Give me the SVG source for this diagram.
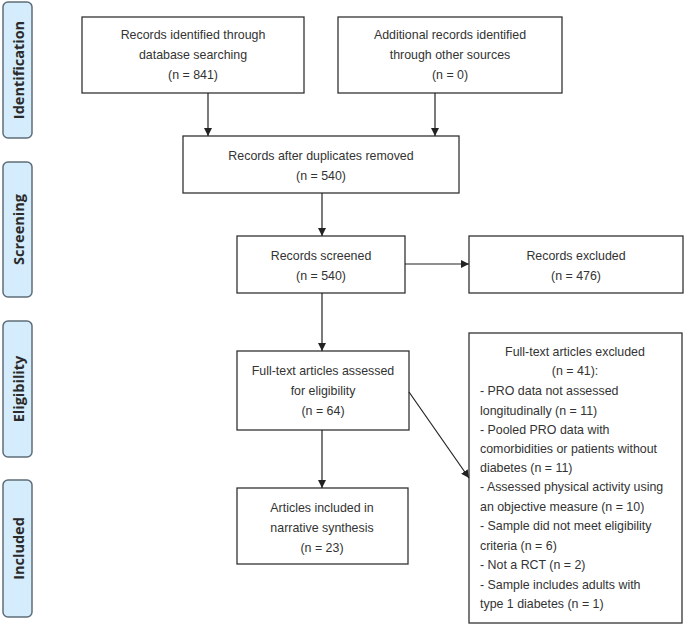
<svg xmlns="http://www.w3.org/2000/svg" width="685" height="626" viewBox="0 0 685 626">
<defs>
<style>
.box{fill:#fff;stroke:#333;stroke-width:1.3}
.side{fill:#d4ecfb;stroke:#5f6d78;stroke-width:1.5}
.t{font-family:"Liberation Sans",Arial,sans-serif;font-size:12.4px;fill:#333;text-anchor:middle}
.l{font-family:"Liberation Sans",Arial,sans-serif;font-size:12.4px;fill:#333}
.s{font-family:"Open Sans","Liberation Sans",sans-serif;font-size:14.5px;font-weight:bold;fill:#2a2a2a;text-anchor:middle}
.c{stroke:#222;stroke-width:1.2;fill:none;marker-end:url(#ah)}
</style>
<marker id="ah" viewBox="0 0 10 10" refX="10" refY="5" markerWidth="8" markerHeight="8" markerUnits="userSpaceOnUse" orient="auto">
<path d="M0,0 L10,5 L0,10 z" fill="#222"/>
</marker>
</defs>
<rect width="685" height="626" fill="#fff"/>
<g id="side-identification"><rect class="side" x="3" y="2" width="29" height="136" rx="5"/><text class="s" transform="translate(23.5,70) rotate(-90)">Identification</text></g>
<g id="side-screening"><rect class="side" x="3" y="162" width="29" height="135" rx="5"/><text class="s" transform="translate(23.5,229.5) rotate(-90)">Screening</text></g>
<g id="side-eligibility"><rect class="side" x="3" y="321" width="29" height="136" rx="5"/><text class="s" transform="translate(23.5,389) rotate(-90)">Eligibility</text></g>
<g id="side-included"><rect class="side" x="3" y="480" width="29" height="137" rx="5"/><text class="s" transform="translate(23.5,548.5) rotate(-90)">Included</text></g>

<g id="n-database"><rect class="box" x="82" y="17" width="222" height="76"/>
<text class="t" x="193" y="39">Records identified through</text><text class="t" x="193" y="59">database searching</text><text class="t" x="193" y="79">(n = 841)</text></g>
<g id="n-other"><rect class="box" x="338" y="17" width="224" height="76"/>
<text class="t" x="450" y="39">Additional records identified</text><text class="t" x="450" y="59">through other sources</text><text class="t" x="450" y="79">(n = 0)</text></g>
<g id="n-duplicates"><rect class="box" x="183" y="136" width="276" height="57"/>
<text class="t" x="321" y="160">Records after duplicates removed</text><text class="t" x="321" y="180">(n = 540)</text></g>
<g id="n-screened"><rect class="box" x="237" y="236" width="168" height="57"/>
<text class="t" x="321" y="260">Records screened</text><text class="t" x="321" y="280">(n = 540)</text></g>
<g id="n-excluded"><rect class="box" x="469" y="236" width="214" height="57"/>
<text class="t" x="576" y="260">Records excluded</text><text class="t" x="576" y="280">(n = 476)</text></g>
<g id="n-fulltext"><rect class="box" x="237" y="351" width="172" height="79"/>
<text class="t" x="323" y="375">Full-text articles assessed</text><text class="t" x="323" y="395">for eligibility</text><text class="t" x="323" y="415">(n = 64)</text></g>
<g id="n-included"><rect class="box" x="237" y="488" width="171" height="76"/>
<text class="t" x="322" y="512">Articles included in</text><text class="t" x="322" y="532">narrative synthesis</text><text class="t" x="322" y="552">(n = 23)</text></g>
<g id="n-ftexcluded"><rect class="box" x="469" y="333" width="213" height="290"/>
<text class="t" x="575" y="356">Full-text articles excluded</text><text class="t" x="575" y="375">(n = 41):</text>
<text class="l" x="480" y="395">- PRO data not assessed</text>
<text class="l" x="480" y="415">longitudinally (n = 11)</text>
<text class="l" x="480" y="434">- Pooled PRO data with</text>
<text class="l" x="480" y="453">comorbidities or patients without</text>
<text class="l" x="480" y="472">diabetes (n = 11)</text>
<text class="l" x="480" y="491">- Assessed physical activity using</text>
<text class="l" x="480" y="511">an objective measure (n = 10)</text>
<text class="l" x="480" y="530">- Sample did not meet eligibility</text>
<text class="l" x="480" y="550">criteria (n = 6)</text>
<text class="l" x="480" y="569">- Not a RCT (n = 2)</text>
<text class="l" x="480" y="589">- Sample includes adults with</text>
<text class="l" x="480" y="608">type 1 diabetes (n = 1)</text></g>

<g id="connectors">
<line class="c" x1="208" y1="93" x2="208" y2="136"/>
<line class="c" x1="435" y1="93" x2="435" y2="136"/>
<line class="c" x1="322" y1="193" x2="322" y2="236"/>
<line class="c" x1="405" y1="264" x2="469" y2="264"/>
<line class="c" x1="322" y1="293" x2="322" y2="351"/>
<line class="c" x1="322" y1="430" x2="322" y2="488"/>
<line class="c" x1="409" y1="392" x2="469" y2="478"/>
</g>
</svg>
